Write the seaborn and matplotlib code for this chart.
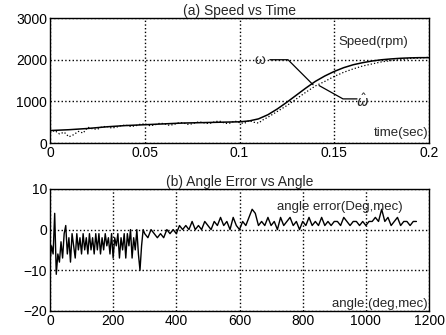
import numpy as np
import pandas as pd
import seaborn as sns
import matplotlib
matplotlib.use('Agg')
import matplotlib.pyplot as plt

# --- data ---
t_speed = [0, 0.01, 0.02, 0.03, 0.04, 0.05, 0.06, 0.07, 0.08, 0.09, 0.1,
           0.105, 0.11, 0.115, 0.12, 0.125, 0.13, 0.135, 0.14, 0.145, 0.15,
           0.155, 0.16, 0.165, 0.17, 0.175, 0.18, 0.185, 0.19, 0.195, 0.2]
speed_real = [300, 320, 350, 390, 420, 440, 460, 480, 490, 500, 510,
              530, 580, 680, 820, 980, 1150, 1320, 1480, 1610, 1720,
              1810, 1880, 1930, 1970, 2000, 2020, 2035, 2045, 2050, 2050]

t_est = [0, 0.0025, 0.005, 0.0075, 0.01, 0.0125, 0.015, 0.0175, 0.02, 0.0225,
         0.025, 0.0275, 0.03, 0.0325, 0.035, 0.0375, 0.04, 0.0425, 0.045, 0.0475,
         0.05, 0.0525, 0.055, 0.0575, 0.06, 0.0625, 0.065, 0.0675, 0.07, 0.0725,
         0.075, 0.0775, 0.08, 0.0825, 0.085, 0.0875, 0.09, 0.0925, 0.095, 0.0975,
         0.1, 0.1025, 0.105, 0.1075, 0.11, 0.1125, 0.115, 0.12, 0.125, 0.13,
         0.135, 0.14, 0.145, 0.15, 0.155, 0.16, 0.165, 0.17, 0.175, 0.18,
         0.185, 0.19, 0.195, 0.2]
speed_est = [250, 300, 220, 260, 150, 200, 280, 240, 380, 340,
             330, 390, 400, 360, 380, 420, 430, 400, 410, 450,
             460, 420, 430, 470, 470, 430, 440, 480, 490, 450,
             460, 500, 500, 470, 480, 520, 520, 470, 480, 530,
             490, 470, 540, 500, 480, 560, 620, 760, 900, 1060,
             1220, 1370, 1480, 1600, 1700, 1780, 1850, 1900, 1950, 1980,
             2000, 2030, 2040, 2060]

angle = [0, 5, 10, 15, 20, 25, 30, 35, 40, 45, 50, 55, 60, 65, 70, 75, 80, 85,
         90, 95, 100, 105, 110, 115, 120, 125, 130, 135, 140, 145, 150, 155,
         160, 165, 170, 175, 180, 185, 190, 195, 200, 205, 210, 215, 220, 225,
         230, 235, 240, 245, 250, 255, 260, 265, 270, 275, 280, 285, 290, 295,
         300, 310, 320, 330, 340, 350, 360, 370, 380, 390, 400, 410, 420, 430,
         440, 450, 460, 470, 480, 490, 500, 510, 520, 530, 540, 550, 560, 570,
         580, 590, 600, 610, 620, 630, 640, 650, 660, 670, 680, 690, 700, 710,
         720, 730, 740, 750, 760, 770, 780, 790, 800, 810, 820, 830, 840, 850,
         860, 870, 880, 890, 900, 910, 920, 930, 940, 950, 960, 970, 980, 990,
         1000, 1010, 1020, 1030, 1040, 1050, 1060, 1070, 1080, 1090, 1100,
         1110, 1120, 1130, 1140, 1150, 1160]
angle_err = [-8, -4, -6, 4, -11, -6, -8, -3, -7, -1, 1, -6, -2, -8, -1, -4, -7, -1,
             -5, -2, -6, -1, -5, -2, -6, -1, -5, -2, -6, -1, -5, -1,
             -6, -2, -5, -1, -4, -2, -6, -1, -7, -2, -4, -1, -7, -2,
             -5, -1, -7, -1, -4, 0, -7, -2, -5, 0, -6, -10, -4, 0,
             -1, -2, 0, -1, -2, -1, -2, 0, -1, 0, -1, 1, 0, 1,
             0, 2, 0, 1, 0, 2, 1, 0, 2, 1, 3, 1, 2, 0,
             3, 1, 0, 2, 1, 3, 5, 4, 1, 2, 1, 3, 1, 2,
             0, 3, 1, 2, 3, 1, 2, 0, 2, 1, 3, 1, 2, 1,
             3, 1, 2, 1, 2, 2, 1, 3, 2, 1, 2, 2, 1, 2,
             1, 2, 2, 3, 2, 5, 2, 3, 1, 2, 3,
             1, 2, 2, 1, 2, 2]

df_real = pd.DataFrame({'t': t_speed, 'speed': speed_real})
df_est = pd.DataFrame({'t': t_est, 'speed': speed_est})
df_ang = pd.DataFrame({'angle': angle, 'err': angle_err})

sns.set_style('white')
plt.rcParams['font.family'] = ['Liberation Sans', 'DejaVu Sans']

fig = plt.figure(figsize=(4.46, 3.35), dpi=100)
ax1 = fig.add_axes([0.112, 0.573, 0.850, 0.373])
ax2 = fig.add_axes([0.112, 0.072, 0.850, 0.364])

# (a) speed vs time
sns.lineplot(data=df_real, x='t', y='speed', ax=ax1, color='black', lw=1.1)
sns.lineplot(data=df_est, x='t', y='speed', ax=ax1, color='black', lw=0.9,
             linestyle=':')
ax1.set_xlim(0, 0.2)
ax1.set_ylim(0, 3000)
ax1.set_xticks([0, 0.05, 0.1, 0.15, 0.2])
ax1.set_xticklabels(['0', '0.05', '0.1', '0.15', '0.2'])
ax1.set_yticks([0, 1000, 2000, 3000])
ax1.set_title('(a) Speed vs Time', fontsize=10, pad=2)
ax1.text(0.152, 2420, 'Speed(rpm)', fontsize=9.5, va='center')
ax1.text(0.1995, 240, 'time(sec)', fontsize=9.5, va='center', ha='right')
ax1.text(0.111, 2000, 'ω', fontsize=10, va='center', ha='center')
ax1.plot([0.116, 0.1256, 0.1388], [2000, 2000, 1400], color='black', lw=0.9)
ax1.text(0.165, 990, r'$\hat{\omega}$', fontsize=10, va='center', ha='center')
ax1.plot([0.162, 0.1546, 0.142], [1060, 1060, 1380], color='black', lw=0.9)

# (b) angle error vs angle
sns.lineplot(data=df_ang, x='angle', y='err', ax=ax2, color='black', lw=1.0)
ax2.set_xlim(0, 1200)
ax2.set_ylim(-20, 10)
ax2.set_xticks([0, 200, 400, 600, 800, 1000, 1200])
ax2.set_yticks([-20, -10, 0, 10])
ax2.set_title('(b) Angle Error vs Angle', fontsize=10, pad=2)
ax2.text(720, 5.6, 'angle error(Deg,mec)', fontsize=9.5, va='center')
ax2.text(1194, -18.3, 'angle (deg,mec)', fontsize=9.5, va='center', ha='right')

for ax in (ax1, ax2):
    ax.set_xlabel('')
    ax.set_ylabel('')
    ax.grid(True, color='black', linestyle=':', linewidth=1.0)
    ax.tick_params(direction='in', length=3, labelsize=10, pad=2,
                   colors='black')
    for s in ax.spines.values():
        s.set_color('black')
        s.set_linewidth(1.0)

fig.savefig('out.png', dpi=100)
